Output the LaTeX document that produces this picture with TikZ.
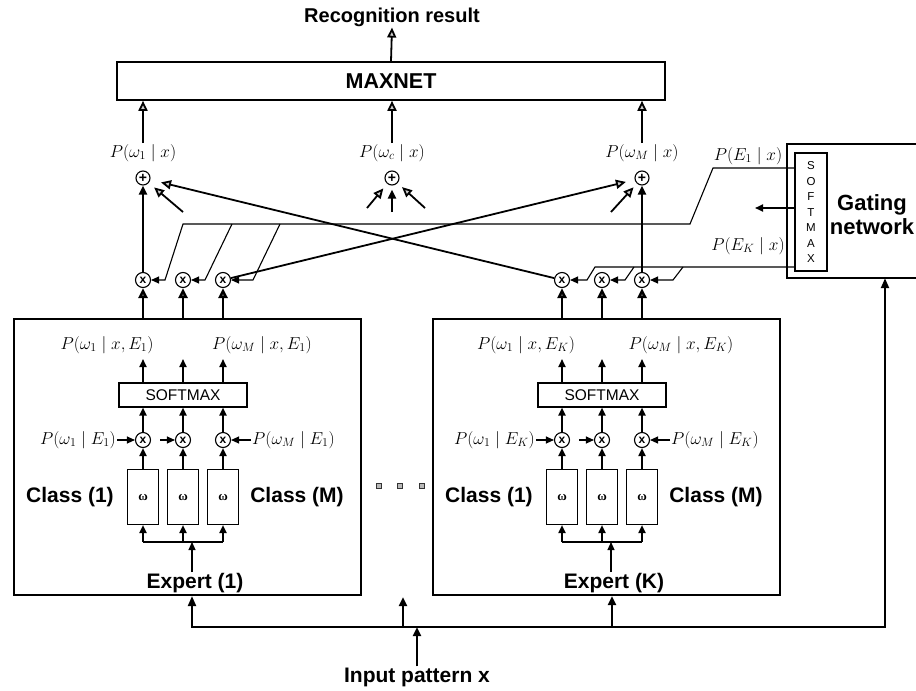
\documentclass[tikz,border=0pt]{standalone}
\usepackage[no-math]{fontspec}
\setmainfont{Liberation Sans}
\newfontfamily\serifgr{Liberation Serif}
\usetikzlibrary{arrows.meta}
\tikzset{
  bold/.style={font=\fontsize{21}{24}\selectfont\bfseries, inner sep=1pt},
  lab/.style={font=\fontsize{18.5}{20}\selectfont, inner sep=1pt},
  mul/.style={circle, draw, line width=1.1pt, minimum size=15pt, inner sep=0pt, font=\fontsize{12}{12}\selectfont\bfseries},
  add/.style={circle, draw, line width=1.1pt, minimum size=14pt, inner sep=0pt, font=\fontsize{14}{14}\selectfont\bfseries},
  wbox/.style={draw, line width=1.1pt, inner sep=0pt},
  arr/.style={-{Triangle[length=9pt,width=8pt]}},
  sarr/.style={-{Triangle[length=8pt,width=7pt]}},
  harr/.style={-{Triangle[length=10pt,width=9pt,fill=gray!40]}},
  wthin/.style={line width=1.1pt},
  wmed/.style={line width=1.8pt},
  wthick/.style={line width=2.8pt},
  omg/.style={wbox, minimum width=31pt, minimum height=55pt, font=\serifgr\fontsize{13}{13}\selectfont\bfseries},
  dotsq/.style={draw=black!80, fill=gray!55, line width=0.8pt, minimum size=5pt, inner sep=0pt},
}
\begin{document}
\begin{tikzpicture}[x=1pt,y=-1pt]
\useasboundingbox (0,0) rectangle (916,691);

% ---------- top: MAXNET ----------
\node[bold, font=\fontsize{20}{24}\selectfont\bfseries] (rec) at (392,17) {Recognition result};
\node[draw, line width=1.6pt, minimum width=548pt, minimum height=38pt, inner sep=0pt, bold, font=\fontsize{21.5}{24}\selectfont\bfseries] (maxnet) at (391,81) {MAXNET};
\draw[wmed,harr] (maxnet.north) -- (rec.south);

\node[lab] (p1) at (143,153) {$P(\omega_1\mid x)$};
\node[lab] (pc) at (392,153) {$P(\omega_c\mid x)$};
\node[lab] (pM) at (642,153) {$P(\omega_M\mid x)$};
\draw[wmed,harr] (p1.north) -- (p1.north |- maxnet.south);
\draw[wmed,harr] (pc.north) -- (pc.north |- maxnet.south);
\draw[wmed,harr] (pM.north) -- (pM.north |- maxnet.south);

\node[add] (s1) at (143,178) {+};
\node[add] (sc) at (392,178) {+};
\node[add] (sM) at (642,178) {+};

% ---------- experts ----------
\foreach \dx/\k in {0/1,419/K}{
\begin{scope}[xshift=\dx pt]
  \node[draw, line width=2.2pt, minimum width=347pt, minimum height=276pt, inner sep=0pt] (ex\k) at (187.5,457) {};
  \node[bold] (exl\k) at (195,583) {Expert (\k)};
  \node[mul] (ma\k) at (143,280) {x};
  \node[mul] (mb\k) at (183,280) {x};
  \node[mul] (mc\k) at (223,280) {x};
  \draw[wthick,harr] (ex\k.north -| ma\k) -- (ma\k);
  \draw[wthick,harr] (ex\k.north -| mb\k) -- (mb\k);
  \draw[wthick,harr] (ex\k.north -| mc\k) -- (mc\k);
  \node[lab] (pxa\k) at (107,345) {$P(\omega_1\mid x,E_{\k})$};
  \node[lab] (pxb\k) at (262,345) {$P(\omega_M\mid x,E_{\k})$};
  \node[wbox, minimum width=128pt, minimum height=24pt, font=\fontsize{15.5}{16}\selectfont] (sm\k) at (183,395) {SOFTMAX};
  \coordinate (ua\k) at (143,359);
  \coordinate (ub\k) at (183,359);
  \coordinate (uc\k) at (223,359);
  \draw[wmed,sarr] (sm\k.north -| ua\k) -- (ua\k);
  \draw[wmed,sarr] (sm\k.north -| ub\k) -- (ub\k);
  \draw[wmed,sarr] (sm\k.north -| uc\k) -- (uc\k);
  \node[mul] (qa\k) at (143,440) {x};
  \node[mul] (qb\k) at (183,440) {x};
  \node[mul] (qc\k) at (223,440) {x};
  \draw[wmed,sarr] (qa\k) -- (sm\k.south -| qa\k);
  \draw[wmed,sarr] (qb\k) -- (sm\k.south -| qb\k);
  \draw[wmed,sarr] (qc\k) -- (sm\k.south -| qc\k);
  \node[lab, anchor=east] (pea\k) at (117,440) {$P(\omega_1\mid E_{\k})$};
  \node[lab, anchor=west] (peb\k) at (251,440) {$P(\omega_M\mid E_{\k})$};
  \coordinate (qi\k) at (160,440);
  \draw[wthin,sarr] (pea\k.east) -- (qa\k.west);
  \draw[wthin,sarr] (qi\k) -- (qb\k.west);
  \draw[wthin,sarr] (peb\k.west) -- (qc\k.east);
  \node[omg] (wa\k) at (143,497) {ω};
  \node[omg] (wb\k) at (183,497) {ω};
  \node[omg] (wc\k) at (223,497) {ω};
  \draw[wmed,sarr] (wa\k) -- (qa\k);
  \draw[wmed,sarr] (wb\k) -- (qb\k);
  \draw[wmed,sarr] (wc\k) -- (qc\k);
  \coordinate (ba\k) at (143,542);
  \coordinate (bb\k) at (183,542);
  \coordinate (bc\k) at (223,542);
  \coordinate (bi\k) at (192,542);
  \draw[wthin] (ba\k) -- (bc\k);
  \draw[wmed,sarr] (ba\k) -- (wa\k);
  \draw[wmed,sarr] (bb\k) -- (wb\k);
  \draw[wmed,sarr] (bc\k) -- (wc\k);
  \draw[wthin,sarr] (exl\k.north -| bi\k) -- (bi\k);
  \node[bold] (cl1\k) at (70,497) {Class (1)};
  \node[bold] (clM\k) at (297,497) {Class (M)};
\end{scope}
}

% ---------- dots between experts ----------
\node[dotsq] (dota) at (379,486) {};
\node[dotsq] (dotb) at (400,486) {};
\node[dotsq] (dotc) at (422,486) {};

% ---------- gating network ----------
\node[minimum width=129pt, minimum height=134pt, inner sep=0pt] (gate) at (851.5,211) {};
\draw[line width=2pt] (gate.north east) -- (gate.north west) -- (gate.south west) -- (gate.south east);
\node[wbox, minimum width=32pt, minimum height=118pt] (gsm) at (811,212) {};
\node[font=\fontsize{11.5}{15.5}\selectfont, align=center, inner sep=0pt] (gsmt) at (gsm) {S\\O\\F\\T\\M\\A\\X};
\node[bold, font=\fontsize{22}{24}\selectfont\bfseries, align=center] (gtxt) at (872,215) {Gating\\network};
\node[lab] (pe1) at (748,156) {$P(E_1\mid x)$};
\node[lab] (peK) at (748,246) {$P(E_K\mid x)$};

% gate -> expert 1
\coordinate (g1) at (795,168);
\coordinate (h1) at (713,168);
\coordinate (h2) at (690,224);
\coordinate (h3) at (183,224);
\coordinate (h4) at (165,280);
\coordinate (j1) at (232,224);
\coordinate (j2) at (205,280);
\coordinate (j3) at (280,224);
\coordinate (j4) at (253,280);
\draw[wthin,sarr] (g1) -- (h1) -- (h2) -- (h3) -- (h4) -- (ma1.east);
\draw[wthin,sarr] (j1) -- (j2) -- (mb1.east);
\draw[wthin,sarr] (j3) -- (j4) -- (mc1.east);
% gate -> expert K
\coordinate (k1) at (795,267);
\coordinate (k2) at (595,267);
\coordinate (k3) at (587,280);
\coordinate (l1) at (634,267);
\coordinate (l2) at (625,280);
\coordinate (l3) at (683,267);
\coordinate (l4) at (673,280);
\draw[wthin,sarr] (k1) -- (k2) -- (k3) -- (maK.east);
\draw[wthin,sarr] (l1) -- (l2) -- (mbK.east);
\draw[wthin,sarr] (l3) -- (l4) -- (mcK.east);
% middle gate output
\coordinate (gm1) at (795,208);
\coordinate (gm2) at (755,208);
\draw[wmed,sarr] (gm1) -- (gm2);

% ---------- into the adders ----------
\draw[wthick,arr] (ma1) -- (s1);
\draw[wthick,arr] (mcK) -- (sM);
\draw[wmed,harr,shorten >=11pt] (maK) -- (s1);
\draw[wmed,harr,shorten >=9pt] (mc1) -- (sM);
\coordinate (d1) at (183,212);
\coordinate (dM) at (611,212);
\draw[wmed,harr,shorten >=7pt] (d1) -- (s1);
\draw[wmed,harr,shorten >=5pt] (dM) -- (sM);
\coordinate (dca) at (367,208);
\coordinate (dcb) at (392,212);
\coordinate (dcc) at (425,208);
\draw[wmed,harr,shorten >=6pt] (dca) -- (sc);
\draw[wthick,arr,shorten >=4pt] (dcb) -- (sc);
\draw[wmed,harr,shorten >=6pt] (dcc) -- (sc);

% ---------- input ----------
\node[bold] (inp) at (417,677) {Input pattern x};
\coordinate (bl) at (192,627);
\coordinate (br) at (885,627);
\coordinate (ib) at (417,627);
\coordinate (bm) at (403,627);
\coordinate (bmt) at (403,597);
\coordinate (bk) at (612,627);
\draw[line width=2.2pt, {Triangle[length=10pt,width=8pt]}-{Triangle[length=10pt,width=8pt]}] (ex1.south -| bl) -- (bl) -- (br) -- (gate.south -| br);
\draw[wthick,arr] (inp.north) -- (ib);
\draw[wthick,arr] (bm) -- (bmt);
\draw[wthick,arr] (bk) -- (exK.south -| bk);
\end{tikzpicture}
\end{document}
